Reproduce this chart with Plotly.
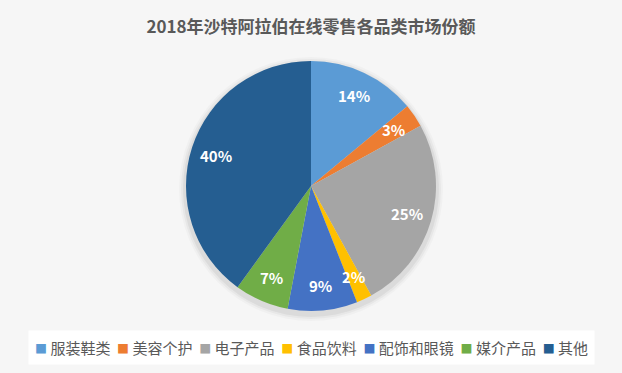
import math
import plotly.graph_objects as go

categories = ["服装鞋类", "美容个护", "电子产品", "食品饮料", "配饰和眼镜", "媒介产品", "其他"]
values = [14, 3, 25, 2, 9, 7, 40]
colors = ["#5B9BD5", "#ED7D31", "#A5A5A5", "#FFC000", "#4472C4", "#70AD47", "#255E91"]
title_text = "2018年沙特阿拉伯在线零售各品类市场份额"

W, H = 622, 373
cx, cy, R = 311, 186, 125  # pie centre and radius in pixels
FONT = "Noto Sans CJK SC"

fig = go.Figure(go.Pie(
    labels=categories,
    values=values,
    marker=dict(colors=colors, line=dict(color="rgba(0,0,0,0)", width=0)),
    sort=False,
    direction="clockwise",
    rotation=0,
    textinfo="none",
    hoverinfo="label+percent",
    showlegend=False,
    domain=dict(x=[(cx - R) / W, (cx + R) / W], y=[1 - (cy + R) / H, 1 - (cy - R) / H]),
))

# soft shadow behind the pie
shapes = []
for k, a in [(7, 0.025), (5, 0.035), (3, 0.05)]:
    shapes.append(dict(
        type="circle", xref="paper", yref="paper", layer="below",
        x0=(cx - R - k) / W, x1=(cx + R + k) / W,
        y0=1 - (cy + R + k + 3) / H, y1=1 - (cy - R - k + 3) / H,
        fillcolor=f"rgba(0,0,0,{a})", line=dict(width=0),
    ))

# data labels placed at 0.8 of the radius along each slice's mid angle
total = sum(values)
cum = 0
annotations = []
for v in values:
    mid = (cum + v / 2) / total * 2 * math.pi
    cum += v
    px = cx + 0.8 * R * math.sin(mid)
    py = cy - 0.8 * R * math.cos(mid)
    annotations.append(dict(
        x=px / W, y=1 - py / H, xref="paper", yref="paper",
        text=f"<b>{round(v / total * 100)}%</b>", showarrow=False,
        font=dict(family=FONT, size=15, color="white"),
        xanchor="center", yanchor="middle",
    ))

# legend row (compact, Excel-like)
parts = []
for c, name in zip(colors, categories):
    parts.append(f'<span style="color:{c};font-size:12px">■</span> {name}')
legend_text = "  ".join(parts)
annotations.append(dict(
    x=0.5, y=1 - 347 / H, xref="paper", yref="paper",
    text=legend_text, showarrow=False,
    font=dict(family=FONT, size=15, color="#595959"),
    xanchor="center", yanchor="middle",
    bgcolor="white", borderpad=6,
))

fig.update_layout(
    width=W, height=H,
    margin=dict(l=0, r=0, t=0, b=0),
    paper_bgcolor="#f6f6f6",
    plot_bgcolor="#f6f6f6",
    showlegend=False,
    title=dict(
        text=f"<b>{title_text}</b>",
        x=0.5, xanchor="center", y=1 - 27 / H, yanchor="middle",
        font=dict(family=FONT, size=17, color="#595959"),
    ),
    shapes=shapes,
    annotations=annotations,
)

fig.write_html(
    "out.html",
    config={"displayModeBar": False},
    post_script="document.body.style.margin='0';document.body.style.padding='0';",
)
